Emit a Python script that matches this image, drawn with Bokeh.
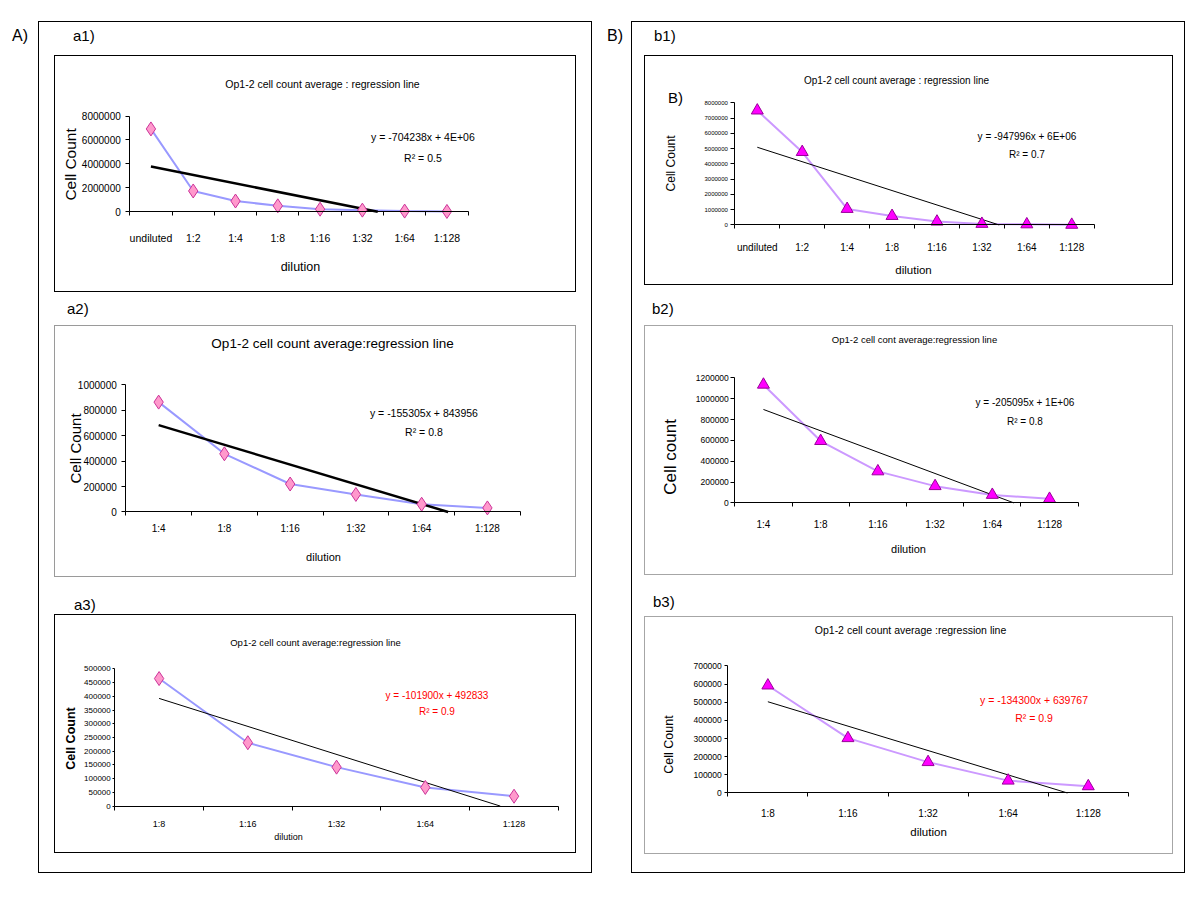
import numpy as np
from bokeh.plotting import figure
from bokeh.layouts import row, column
from bokeh.models import Div, Range1d, FixedTicker, NumeralTickFormatter, Label
from bokeh.embed import file_html
from bokeh.resources import INLINE

SANS = "Liberation Sans"

# ---------------- data ----------------
cats_a1 = ["undiluted", "1:2", "1:4", "1:8", "1:16", "1:32", "1:64", "1:128"]
vals_a1 = [6920000, 1740000, 900000, 500000, 220000, 140000, 60000, 30000]
yticks_a1 = [0, 2000000, 4000000, 6000000, 8000000]

cats_a2 = ["1:4", "1:8", "1:16", "1:32", "1:64", "1:128"]
vals_a2 = [865000, 458000, 220000, 138000, 61000, 32000]
yticks_a2 = [0, 200000, 400000, 600000, 800000, 1000000]

cats_a3 = ["1:8", "1:16", "1:32", "1:64", "1:128"]
vals_a3 = [465000, 231000, 142000, 68000, 36000]
yticks_a3 = [0, 50000, 100000, 150000, 200000, 250000, 300000, 350000, 400000, 450000, 500000]

cats_b1 = ["undiluted", "1:2", "1:4", "1:8", "1:16", "1:32", "1:64", "1:128"]
vals_b1 = [7500000, 4780000, 1050000, 590000, 220000, 70000, 40000, 10000]
yticks_b1 = [0, 1000000, 2000000, 3000000, 4000000, 5000000, 6000000, 7000000, 8000000]

cats_b2 = ["1:4", "1:8", "1:16", "1:32", "1:64", "1:128"]
vals_b2 = [1135000, 594000, 303000, 161000, 77000, 39000]
yticks_b2 = [0, 200000, 400000, 600000, 800000, 1000000, 1200000]

cats_b3 = ["1:8", "1:16", "1:32", "1:64", "1:128"]
vals_b3 = [592000, 302000, 170000, 68000, 37000]
yticks_b3 = [0, 100000, 200000, 300000, 400000, 500000, 600000, 700000]

titles = {
    "a1": "Op1-2 cell count average : regression line",
    "a2": "Op1-2 cell count average:regression line",
    "a3": "Op1-2 cell count average:regression line",
    "b1": "Op1-2 cell count average : regression line",
    "b2": "Op1-2 cell cont average:regression line",
    "b3": "Op1-2 cell count average :regression line",
}
ylabels = {"a1": "Cell Count", "a2": "Cell Count", "a3": "Cell Count",
           "b1": "Cell Count", "b2": "Cell  count", "b3": "Cell Count"}
xlabel = "dilution"
equations = {
    "a1": ("y = -704238x + 4E+06", "R² = 0.5"),
    "a2": ("y = -155305x + 843956", "R² = 0.8"),
    "a3": ("y = -101900x + 492833", "R² = 0.9"),
    "b1": ("y = -947996x + 6E+06", "R² = 0.7"),
    "b2": ("y = -205095x + 1E+06", "R² = 0.8"),
    "b3": ("y = -134300x + 639767", "R² = 0.9"),
}

# ---------------- styles / layout (page pixels) ----------------
SER_A = dict(lc="#9999FF", lw=2, mk="diamond", ms=14, mf="#FF99CC", ml="#CC3399")
SER_B = dict(lc="#CC99FF", lw=2, mk="triangle", ms=12, mf="#FF00FF", ml="#990099")

SPECS = {
    "a1": dict(box=(54, 55, 576, 292), frame=(129, 466, 115, 210), border="#000000",
               title=(321, 83, 10.5), ylab=(70, 163, 15.5, "normal"), xlab=(299, 265, 12.5),
               eq=(421, 136, 157, 10.5), yt=(10, 4, 5), xt=(10.5, 4, 16), reg_w=2.5, ser=SER_A,
               eq_color="black"),
    "a2": dict(box=(54, 325, 576, 577), frame=(125, 518, 384, 510), border="#9a9a9a",
               title=(331, 343, 13.5), ylab=(75, 447, 15, "normal"), xlab=(322, 555, 11),
               eq=(422, 412, 431, 10.5), yt=(10, 4, 5), xt=(10, 4, 7), reg_w=2.5, ser=SER_A,
               eq_color="black"),
    "a3": dict(box=(54, 614, 576, 853), frame=(114, 556, 668, 804), border="#000000",
               title=(314, 642, 9.5), ylab=(70, 737, 12.5, "bold"), xlab=(287, 835, 9),
               eq=(435, 694, 710, 10), yt=(8, 2, 2), xt=(9, 4, 9), reg_w=1, ser=SER_A,
               eq_color="#FF0000"),
    "b1": dict(box=(644, 55, 1173, 285), frame=(734, 1092, 102, 223), border="#000000",
               title=(895, 80, 10), ylab=(670, 162, 12, "normal"), xlab=(912, 268, 11.5),
               eq=(1025, 135, 153, 10), yt=(6, 4, 3), xt=(10, 4, 13), reg_w=1, ser=SER_B,
               eq_color="black", extra=("B)", 675, 97, 15)),
    "b2": dict(box=(644, 325, 1173, 575), frame=(734, 1076, 377, 501), border="#a6a6a6",
               title=(913, 339, 9.5), ylab=(670, 453, 17, "normal"), xlab=(907, 547, 11),
               eq=(1023, 401, 420, 10), yt=(8.5, 4, 2), xt=(10, 4, 12), reg_w=1, ser=SER_B,
               eq_color="black"),
    "b3": dict(box=(644, 616, 1173, 854), frame=(727, 1126, 665, 791), border="#a6a6a6",
               title=(909, 629, 10.5), ylab=(668, 743, 12.5, "normal"), xlab=(927, 830, 11.5),
               eq=(1032, 699, 717, 10.5), yt=(8.5, 3, 3), xt=(10, 4, 11), reg_w=1, ser=SER_B,
               eq_color="#FF0000"),
}


def make_chart(key, cats, vals, yticks):
    g = SPECS[key]
    n = len(cats)
    xs = list(range(1, n + 1))
    bx0, by0, bx1, by1 = g["box"]
    W, H = bx1 - bx0, by1 - by0
    cx0, cy0 = bx0 + 1, by0 + 1          # canvas sits inside the 1px css border
    Wc, Hc = W - 2, H - 2
    fl, fr, ft, fb = g["frame"]           # Excel plot-area edges
    ymax = yticks[-1]
    kx = n / (fr - fl)
    ky = ymax / (fb - ft)
    x0 = 0.5 - (fl - cx0) * kx
    x1 = n + 0.5 + (cx0 + Wc - fr) * kx
    y1 = ymax + (ft - cy0) * ky
    y0 = -(cy0 + Hc - fb) * ky

    p = figure(width=W, height=H, x_range=Range1d(x0, x1), y_range=Range1d(y0, y1),
               output_backend="svg", toolbar_location=None, min_border=0,
               min_border_left=0, min_border_right=0, min_border_top=0, min_border_bottom=0,
               background_fill_color="white", border_fill_color="white", outline_line_color=None,
               styles={"border": "1px solid " + g["border"]})
    p.xgrid.visible = False
    p.ygrid.visible = False

    xa = p.xaxis[0]
    xa.fixed_location = 0
    xa.bounds = (0.5, n + 0.5)
    xa.ticker = FixedTicker(ticks=xs, minor_ticks=[i + 0.5 for i in range(n + 1)])
    xa.major_label_overrides = {x: c for x, c in zip(xs, cats)}
    xa.major_tick_out = 0
    xa.major_tick_in = 0
    xa.minor_tick_in = 0
    xa.minor_tick_out = g["xt"][1]
    xa.minor_tick_line_color = "black"
    xa.axis_line_color = "black"
    xa.major_label_standoff = g["xt"][2]
    xa.major_label_text_font = SANS
    xa.major_label_text_font_size = f"{g['xt'][0]}px"
    xa.major_label_text_color = "black"

    ya = p.yaxis[0]
    ya.fixed_location = 0.5
    ya.bounds = (0, ymax)
    ya.ticker = FixedTicker(ticks=yticks, minor_ticks=[])
    ya.formatter = NumeralTickFormatter(format="0")
    ya.major_tick_out = g["yt"][1]
    ya.major_tick_in = 0
    ya.minor_tick_out = 0
    ya.minor_tick_in = 0
    ya.major_tick_line_color = "black"
    ya.axis_line_color = "black"
    ya.major_label_standoff = g["yt"][2]
    ya.major_label_text_font = SANS
    ya.major_label_text_font_size = f"{g['yt'][0]}px"
    ya.major_label_text_color = "black"

    s = g["ser"]
    p.line(xs, vals, line_color=s["lc"], line_width=s["lw"])
    m, b = np.polyfit(xs, vals, 1)
    x_end = min(float(n), -b / m)
    p.line([1, x_end], [m * 1 + b, m * x_end + b], line_color="black", line_width=g["reg_w"])
    p.scatter(xs, vals, marker=s["mk"], size=s["ms"], fill_color=s["mf"], line_color=s["ml"],
              line_width=1)

    def to_data(px, py):
        x = x0 + (px - cx0) / Wc * (x1 - x0)
        y = y1 - (py - cy0) / Hc * (y1 - y0)
        return x, y

    def put(txt, px, py, size, color="black", angle=0.0, style="normal"):
        x, y = to_data(px, py)
        p.add_layout(Label(x=x, y=y, text=txt, text_font=SANS, text_font_size=f"{size}px",
                           text_color=color, text_align="center", text_baseline="middle",
                           angle=angle, text_font_style=style))

    tx, ty, tsz = g["title"]
    put(titles[key], tx, ty, tsz)
    lx, ly, lsz, lst = g["ylab"]
    put(ylabels[key], lx, ly, lsz, angle=np.pi / 2, style=lst)
    dx, dy, dsz = g["xlab"]
    put(xlabel, dx, dy, dsz)
    ex, ey1, ey2, esz = g["eq"]
    put(equations[key][0], ex, ey1, esz, color=g["eq_color"])
    put(equations[key][1], ex, ey2, esz, color=g["eq_color"])
    if "extra" in g:
        t, px, py, sz = g["extra"]
        put(t, px, py, sz)
    return p


def tag(text, mt, ml, w=40, size=15):
    return Div(text=text, width=w, height=16, margin=(mt, 0, 0, ml),
               styles={"font-family": SANS, "font-size": f"{size}px", "line-height": "16px",
                       "color": "black"})


pa1 = make_chart("a1", cats_a1, vals_a1, yticks_a1)
pa2 = make_chart("a2", cats_a2, vals_a2, yticks_a2)
pa3 = make_chart("a3", cats_a3, vals_a3, yticks_a3)
pb1 = make_chart("b1", cats_b1, vals_b1, yticks_b1)
pb2 = make_chart("b2", cats_b2, vals_b2, yticks_b2)
pb3 = make_chart("b3", cats_b3, vals_b3, yticks_b3)

pa1.margin = (11, 0, 0, 15)
pa2.margin = (8, 0, 0, 15)
pa3.margin = (1, 0, 0, 15)
pb1.margin = (11, 0, 0, 12)
pb2.margin = (8, 0, 0, 12)
pb3.margin = (6, 0, 0, 12)

colA = column(children=[tag("a1)", 6, 34), pa1, tag("a2)", 9, 28), pa2, tag("a3)", 20, 35), pa3],
              width=554, height=852, spacing=0, margin=(21, 0, 0, 0),
              styles={"border": "1px solid black"})
colB = column(children=[tag("b1)", 6, 22), pb1, tag("b2)", 16, 20), pb2, tag("b3)", 19, 21), pb3],
              width=554, height=852, spacing=0, margin=(21, 0, 0, 0),
              styles={"border": "1px solid black"})

root = row(children=[tag("A)", 28, 12, w=26, size=16), colA, tag("B)", 28, 15, w=24, size=16), colB],
           spacing=0)

open("out.html", "w").write(file_html(root, INLINE))
